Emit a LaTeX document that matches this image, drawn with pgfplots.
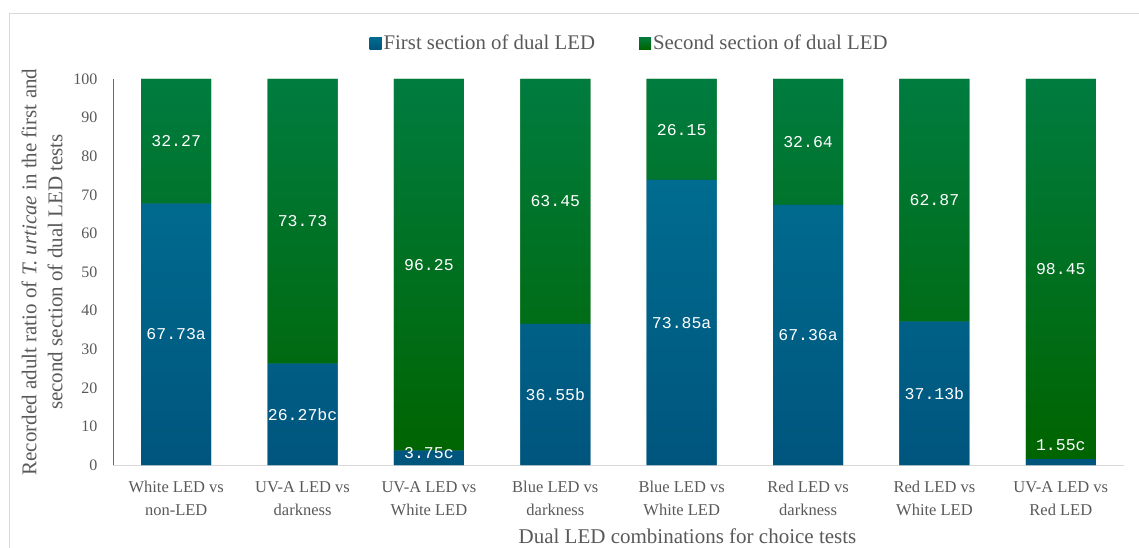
\documentclass[border=0pt]{standalone}
\usepackage{pgfplots}
\pgfplotsset{compat=1.18}
\usepackage{fontspec}
\setmainfont{Liberation Serif}
\newfontfamily\lblfont{Liberation Mono}
\definecolor{txt}{HTML}{595959}
\definecolor{gtop}{HTML}{007C40}
\definecolor{gbot}{HTML}{006400}
\definecolor{btop}{HTML}{006C90}
\definecolor{bbot}{HTML}{00557D}
\definecolor{yline}{HTML}{2E7EA0}
\definecolor{framegray}{HTML}{D9D9D9}
\begin{document}
\begin{tikzpicture}
\useasboundingbox (-113pt,-82pt) rectangle (1026pt,465pt);
\draw[framegray, line width=1pt] (-103pt,-90pt) -- (-103pt,451pt) -- (1040pt,451pt);
\begin{axis}[
  scale only axis, width=1011pt, height=386pt,
  at={(0pt,0pt)}, anchor=south west,
  ybar stacked, bar width=70pt,
  xmin=-0.5, xmax=7.5, ymin=0, ymax=100,
  ytick={0,10,...,100},
  xtick={0,...,7},
  xticklabels={{White LED vs\\non-LED},{UV-A LED vs\\darkness},{UV-A LED vs\\White LED},{Blue LED vs\\darkness},{Blue LED vs\\White LED},{Red LED vs\\darkness},{Red LED vs\\White LED},{UV-A LED vs\\Red LED}},
  xticklabel style={align=center, font=\fontsize{16.5}{23}\selectfont, text=txt, yshift=-13pt},
  yticklabel style={font=\fontsize{16}{18}\selectfont, text=txt, xshift=-12pt},
  /pgf/number format/assume math mode=true,
  major tick length=0pt,
  axis lines*=left,
  x axis line style={framegray, line width=1pt},
  y axis line style={yline, line width=0.8pt},
  xlabel={Dual LED combinations for choice tests},
  xlabel style={font=\fontsize{21}{24}\selectfont, text=txt, yshift=-6pt, xshift=69pt},
  ylabel={Recorded adult ratio of \textit{T. urticae} in the first and\\second section of dual LED tests},
  ylabel style={align=center, font=\fontsize{21}{26}\selectfont, text=txt, yshift=4pt},
  legend style={at={(0.511,1.093)}, anchor=center, draw=none, fill=none,
    legend columns=2, font=\fontsize{20.8}{24}\selectfont, text=txt,
    /tikz/every even column/.append style={column sep=42pt}},
  legend image code/.code={\fill[#1] (0pt,-6pt) rectangle (12pt,6pt);},
  clip=false,
]
\addplot[draw=none, fill=bbot, top color=btop, bottom color=bbot] coordinates {
 (0,67.73) (1,26.27) (2,3.75) (3,36.55) (4,73.85) (5,67.36) (6,37.13) (7,1.55)};
\addlegendentry{First section of dual LED}
\addplot[draw=none, fill=gbot, top color=gtop, bottom color=gbot] coordinates {
 (0,32.27) (1,73.73) (2,96.25) (3,63.45) (4,26.15) (5,32.64) (6,62.87) (7,98.45)};
\addlegendentry{Second section of dual LED}
\end{axis}
\begin{axis}[
  scale only axis, width=1011pt, height=386pt,
  at={(0pt,0pt)}, anchor=south west,
  xmin=-0.5, xmax=7.5, ymin=0, ymax=100,
  hide axis, clip=false,
  nodes near coords, point meta=explicit symbolic,
  every node near coord/.append style={anchor=center, text=white, font=\lblfont\fontsize{16.5}{18}\selectfont},
]
\addplot[only marks, mark=none] table[meta=lbl] {
x y lbl
0 33.9 67.73a
0 83.9 32.27
1 13.1 26.27bc
1 63.1 73.73
2 3.1 3.75c
2 51.9 96.25
3 18.3 36.55b
3 68.3 63.45
4 36.9 73.85a
4 86.9 26.15
5 33.7 67.36a
5 83.7 32.64
6 18.6 37.13b
6 68.6 62.87
7 5.2 1.55c
7 50.8 98.45
};
\end{axis}
\end{tikzpicture}
\end{document}
